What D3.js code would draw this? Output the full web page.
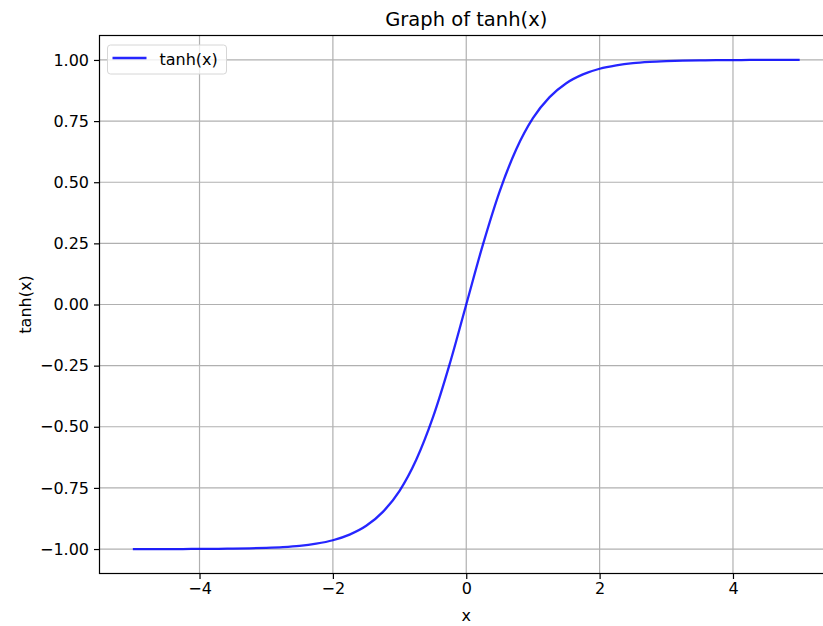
<!DOCTYPE html>
<html>
<head>
<meta charset="utf-8">
<script src="https://cdn.jsdelivr.net/npm/d3@7"></script>
<style>
  body { margin: 0; background: #fff; }
  svg { display: block; font-family: "DejaVu Sans", sans-serif; }
</style>
</head>
<body>
<div id="chart"></div>
<script>
// values (x, tanh(x))
var xValues = [-5, -4.75, -4.5, -4.25, -4, -3.75, -3.5, -3.25, -3, -2.75, -2.5, -2.25, -2,
               -1.75, -1.5, -1.25, -1, -0.75, -0.5, -0.25, 0, 0.25, 0.5, 0.75, 1, 1.25,
               1.5, 1.75, 2, 2.25, 2.5, 2.75, 3, 3.25, 3.5, 3.75, 4, 4.25, 4.5, 4.75, 5];
var yValues = [-1.000, -1.000, -1.000, -1.000, -0.999, -0.999, -0.998, -0.997, -0.995, -0.992,
               -0.987, -0.978, -0.964, -0.941, -0.905, -0.848, -0.762, -0.635, -0.462, -0.245,
               0.000, 0.245, 0.462, 0.635, 0.762, 0.848, 0.905, 0.941, 0.964, 0.978,
               0.987, 0.992, 0.995, 0.997, 0.998, 0.999, 0.999, 1.000, 1.000, 1.000, 1.000];
var xTicks = [-4, -2, 0, 2, 4];
var yTicks = [-1.00, -0.75, -0.50, -0.25, 0.00, 0.25, 0.50, 0.75, 1.00];
var seriesName = "tanh(x)";

function init() {
    var w = 823;
    var h = 626;
    var left = 99.5, top = 35.5, plotW = 733.5, plotH = 538;

    var data = xValues.map(function(x, i) { return [x, yValues[i]]; });

    var xScale = d3.scaleLinear().domain([-5.5, 5.5]).range([left, left + plotW]);
    var yScale = d3.scaleLinear().domain([-1.1, 1.1]).range([top + plotH, top]);

    function minus(s) { return s.replace("-", "\u2212"); }

    var svg = d3.select("#chart")
                .append("svg")
                .attr("width", w)
                .attr("height", h);

    // grid
    svg.append("g").selectAll("line")
        .data(xTicks).enter().append("line")
        .attr("x1", function(d) { return xScale(d); })
        .attr("x2", function(d) { return xScale(d); })
        .attr("y1", top).attr("y2", top + plotH)
        .attr("stroke", "#b0b0b0").attr("stroke-width", 1.2);
    svg.append("g").selectAll("line")
        .data(yTicks).enter().append("line")
        .attr("y1", function(d) { return yScale(d); })
        .attr("y2", function(d) { return yScale(d); })
        .attr("x1", left).attr("x2", left + plotW)
        .attr("stroke", "#b0b0b0").attr("stroke-width", 1.2);

    // the curve
    var line = d3.line()
        .x(function(d) { return xScale(d[0]); })
        .y(function(d) { return yScale(d[1]); })
        .curve(d3.curveMonotoneX);

    svg.append("path")
        .datum(data)
        .attr("d", line)
        .attr("fill", "none")
        .attr("stroke", "blue")
        .attr("stroke-opacity", 0.85)
        .attr("stroke-width", 2.3);

    // axes
    var xAxis = svg.append("g")
        .attr("transform", "translate(0," + (top + plotH) + ")")
        .call(d3.axisBottom(xScale).tickValues(xTicks).tickSize(5.5).tickPadding(4)
              .tickFormat(function(d) { return minus(d3.format("d")(d)); }));
    var yAxis = svg.append("g")
        .attr("transform", "translate(" + left + ",0)")
        .call(d3.axisLeft(yScale).tickValues(yTicks).tickSize(5.5).tickPadding(5)
              .tickFormat(function(d) { return minus(d3.format(".2f")(d)); }));

    [xAxis, yAxis].forEach(function(a) {
        a.select(".domain").remove();
        a.selectAll(".tick line").attr("stroke", "#000").attr("stroke-width", 1.2);
        a.selectAll(".tick text")
            .attr("fill", "#000")
            .style("font-family", "DejaVu Sans")
            .style("font-size", "16px");
    });

    // spines
    svg.append("rect")
        .attr("x", left).attr("y", top)
        .attr("width", plotW).attr("height", plotH)
        .attr("fill", "none")
        .attr("stroke", "#000")
        .attr("stroke-width", 1.2);

    // title and labels
    svg.append("text")
        .attr("x", xScale(0)).attr("y", 26)
        .attr("text-anchor", "middle")
        .style("font-size", "19.5px")
        .text("Graph of tanh(x)");
    svg.append("text")
        .attr("x", xScale(0)).attr("y", 621)
        .attr("text-anchor", "middle")
        .style("font-size", "16px")
        .text("x");
    svg.append("text")
        .attr("transform", "translate(31," + yScale(0) + ") rotate(-90)")
        .attr("text-anchor", "middle")
        .style("font-size", "16px")
        .text("tanh(x)");

    // legend
    var lg = svg.append("g").attr("transform", "translate(" + (left + 8) + "," + (top + 9.5) + ")");
    lg.append("rect")
        .attr("width", 119).attr("height", 29).attr("rx", 3)
        .attr("fill", "#fff").attr("fill-opacity", 0.8)
        .attr("stroke", "#d6d6d6").attr("stroke-width", 1);
    lg.append("line")
        .attr("x1", 5).attr("x2", 39).attr("y1", 13).attr("y2", 13)
        .attr("stroke", "blue").attr("stroke-opacity", 0.85).attr("stroke-width", 2.3);
    lg.append("text")
        .attr("x", 52).attr("y", 19.5)
        .style("font-size", "16px")
        .text(seriesName);
}
window.onload = init;
</script>
</body>
</html>
